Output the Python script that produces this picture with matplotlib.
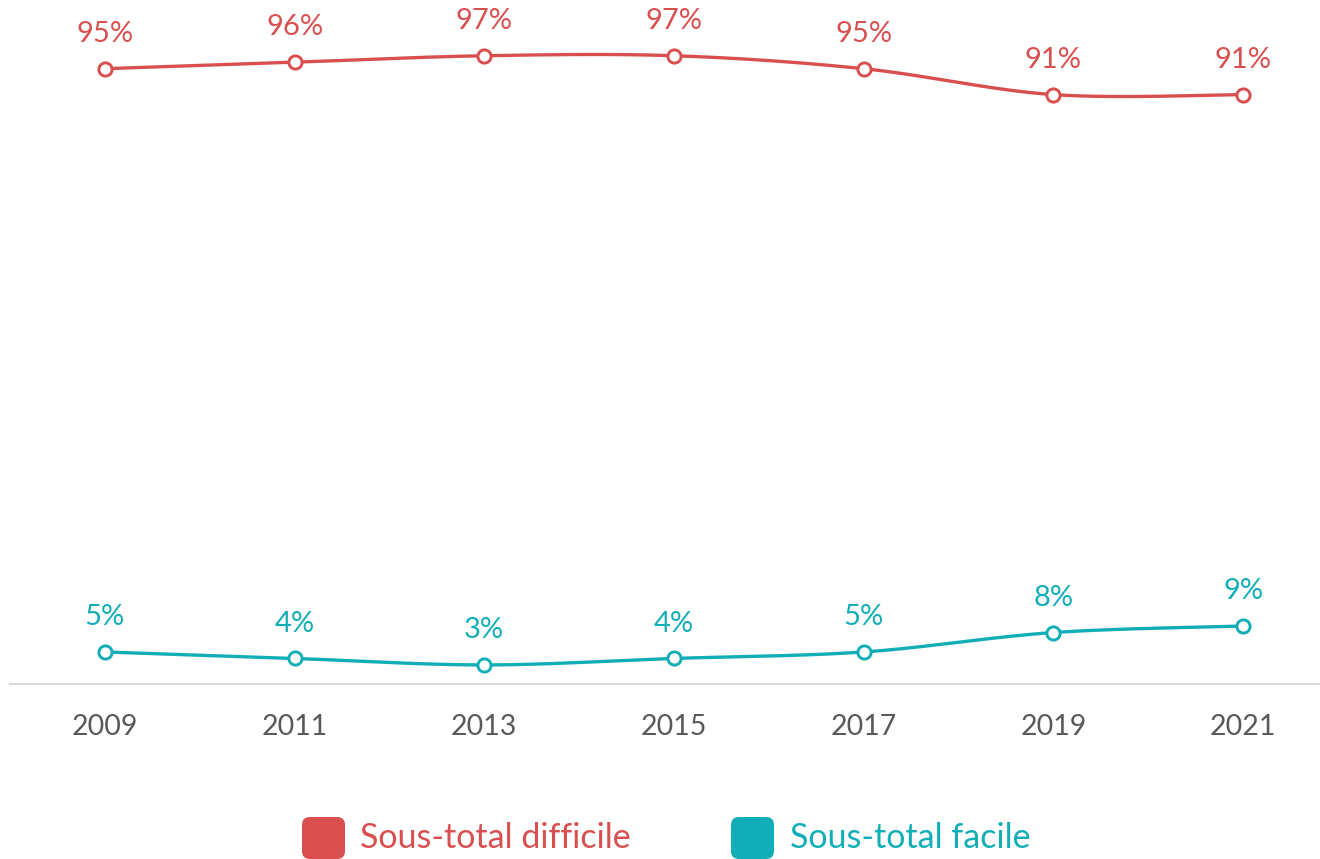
import numpy as np
import matplotlib
matplotlib.use("Agg")
import matplotlib.pyplot as plt
from matplotlib.patches import FancyBboxPatch

plt.rcParams['font.family'] = ['Lato', 'DejaVu Sans']

years = [2009, 2011, 2013, 2015, 2017, 2019, 2021]
difficile = [95, 96, 97, 97, 95, 91, 91]
facile = [5, 4, 3, 4, 5, 8, 9]
labels = ['Sous-total difficile', 'Sous-total facile']
colors = ['#D94F4F', '#12AEB7']


def smooth(xs, ys, n=30):
    # Bezier smoothing like office charts (control points at 1/6 of neighbour slope)
    xs = np.asarray(xs, float)
    ys = np.asarray(ys, float)
    px = np.concatenate([[xs[0]], xs, [xs[-1]]])
    py = np.concatenate([[ys[0]], ys, [ys[-1]]])
    outx, outy = [], []
    t = np.linspace(0, 1, n)
    for i in range(len(xs) - 1):
        p0 = np.array([px[i + 1], py[i + 1]])
        p3 = np.array([px[i + 2], py[i + 2]])
        c1 = p0 + (np.array([px[i + 2], py[i + 2]]) - np.array([px[i], py[i]])) / 6
        c2 = p3 - (np.array([px[i + 3], py[i + 3]]) - np.array([px[i + 1], py[i + 1]])) / 6
        b = ((1 - t) ** 3)[:, None] * p0 + (3 * (1 - t) ** 2 * t)[:, None] * c1 \
            + (3 * (1 - t) * t ** 2)[:, None] * c2 + (t ** 3)[:, None] * p3
        outx.extend(b[:, 0])
        outy.extend(b[:, 1])
    return outx, outy


fig = plt.figure(figsize=(13.2, 8.59), dpi=100)
ax = fig.add_axes([10 / 1320, 0.2033, 1310 / 1320, 0.7967])

for vals, col in zip([difficile, facile], colors):
    sx, sy = smooth(years, vals)
    ax.plot(sx, sy, color=col, lw=2.4, solid_capstyle='round', zorder=2)
    ax.plot(years, vals, 'o', ms=9.5, mfc='white', mec=col, mew=2.1, zorder=3)
    for x, v in zip(years, vals):
        ax.annotate(f"{v}%", (x, v), xytext=(0, 25), textcoords='offset points',
                    ha='center', va='center', fontsize=21, color=col)

ax.set_xlim(2008.0, 2021.81)
ax.set_ylim(0, 105.6)
ax.set_xticks(years)
ax.set_xticklabels([str(y) for y in years], fontsize=20.5, color='#595959')
ax.tick_params(axis='x', length=0, pad=21)
ax.set_yticks([])
for s in ['top', 'right', 'left']:
    ax.spines[s].set_visible(False)
ax.spines['bottom'].set_color('#D9D9D9')
ax.spines['bottom'].set_linewidth(1.5)

# legend
leg_items = [(302, 360, labels[0], colors[0]), (731, 790, labels[1], colors[1])]
for bx, tx, lab, col in leg_items:
    box = FancyBboxPatch((bx / 1320, 0), 43 / 1320, 42 / 859,
                         boxstyle="round,pad=0,rounding_size=0.006",
                         transform=fig.transFigure, facecolor=col, edgecolor='none',
                         mutation_aspect=1320 / 859)
    fig.patches.append(box)
    fig.text(tx / 1320, 1 - 838 / 859, lab, fontsize=24.5, color=col,
             ha='left', va='center')

fig.savefig('out.png', dpi=100)
